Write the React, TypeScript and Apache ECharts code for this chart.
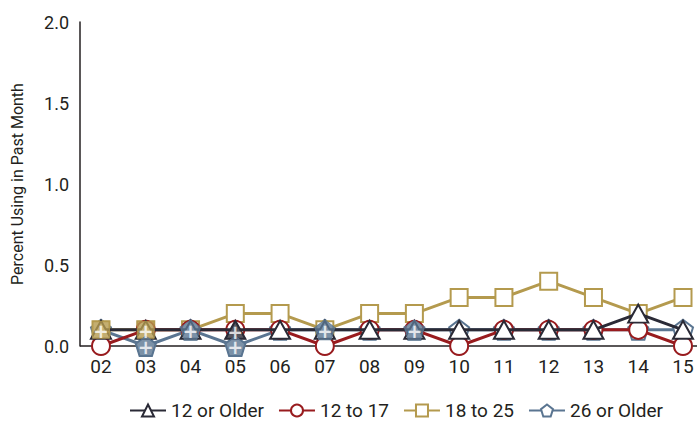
import React, { useEffect, useRef } from "react";
import * as echarts from "echarts";

const years = ["02", "03", "04", "05", "06", "07", "08", "09", "10", "11", "12", "13", "14", "15"];
const yTicks = [0, 0.5, 1.0, 1.5, 2.0];

const older12 = [0.1, 0.1, 0.1, 0.1, 0.1, 0.1, 0.1, 0.1, 0.1, 0.1, 0.1, 0.1, 0.2, 0.1];
const age1217 = [0.0, 0.1, 0.1, 0.1, 0.1, 0.0, 0.1, 0.1, 0.0, 0.1, 0.1, 0.1, 0.1, 0.0];
const age1825 = [0.1, 0.1, 0.1, 0.2, 0.2, 0.1, 0.2, 0.2, 0.3, 0.3, 0.4, 0.3, 0.2, 0.3];
const older26 = [0.1, 0.0, 0.1, 0.0, 0.1, 0.1, 0.1, 0.1, 0.1, 0.1, 0.1, 0.1, 0.1, 0.1];

// years whose estimate is flagged (drawn as filled marker with a "+")
const older12Flagged = ["05"];
const age1217Flagged: string[] = [];
const age1825Flagged = ["02", "03"];
const older26Flagged = ["03", "04", "05", "07", "09"];

const PENTAGON = "path://M50,0 L97.55,34.55 L79.39,90.45 L20.61,90.45 L2.45,34.55 Z";
const FONT = "Roboto, 'Liberation Sans', sans-serif";
const TEXT = "#231f20";

const defs = [
  { name: "12 or Older", data: older12, flagged: older12Flagged, color: "#2a2a36", symbol: "triangle", size: [20, 18] },
  { name: "12 to 17", data: age1217, flagged: age1217Flagged, color: "#981b1e", symbol: "circle", size: 18 },
  { name: "18 to 25", data: age1825, flagged: age1825Flagged, color: "#b49a4e", symbol: "rect", size: 17 },
  { name: "26 or Older", data: older26, flagged: older26Flagged, color: "#5a7591", symbol: PENTAGON, size: 20 },
];

export default function App() {
  const ref = useRef<HTMLDivElement>(null);
  useEffect(() => {
    if (!ref.current) return;
    document.body.style.margin = "0";
    const chart = echarts.init(ref.current, null, { renderer: "svg" });
    const drawOrder = [3, 2, 1, 0];
    const lineSeries: any[] = drawOrder.map((i, k) => {
      const d = defs[i];
      return {
        name: d.name,
        type: "line",
        data: d.data,
        symbol: d.symbol,
        symbolSize: d.size,
        showAllSymbol: true,
        z: 2 + k * 0.1,
        lineStyle: { color: d.color, width: 3 },
        itemStyle: { color: "#ffffff", borderColor: d.color, borderWidth: 2 },
        emphasis: { disabled: true },
      };
    });
    const flagSeries: any[] = defs.map((d) => ({
      name: d.name + " flagged",
      type: "scatter",
      data: d.flagged.map((y) => [y, d.data[years.indexOf(y)]]),
      symbol: d.symbol,
      symbolSize: d.size,
      z: 5,
      itemStyle: { color: d.color, borderColor: d.color, borderWidth: 1 },
      label: {
        show: true,
        position: "inside",
        formatter: "+",
        color: "#ffffff",
        fontSize: 19,
        fontWeight: "bold",
        fontFamily: "DejaVu Sans",
        offset: [0, d.symbol === "triangle" ? 2 : 1],
      },
      emphasis: { disabled: true },
    }));
    chart.setOption({
      animation: false,
      textStyle: { fontFamily: FONT, color: TEXT },
      grid: { left: 101, right: 14, top: 22, bottom: 80, containLabel: false },
      graphic: [
        {
          type: "line",
          z: 1,
          shape: { x1: 80, y1: 346, x2: 697, y2: 346 },
          style: { stroke: TEXT, lineWidth: 1.5 },
        },
      ],
      legend: {
        data: defs.map((d) => d.name),
        left: 124,
        bottom: 1,
        width: 570,
        itemWidth: 36,
        itemHeight: 15,
        itemGap: 14,
        textStyle: { fontFamily: FONT, fontSize: 19, color: TEXT },
      },
      xAxis: {
        type: "category",
        data: years,
        boundaryGap: false,
        axisLine: { show: false },
        axisTick: { show: false },
        axisLabel: { fontSize: 19, color: TEXT, fontFamily: FONT, margin: 11 },
        splitLine: { show: false },
      },
      yAxis: {
        type: "value",
        min: yTicks[0],
        max: yTicks[yTicks.length - 1],
        interval: 0.5,
        offset: 21,
        name: "Percent Using in Past Month",
        nameLocation: "middle",
        nameGap: 55,
        nameTextStyle: { fontSize: 16, color: TEXT, fontFamily: FONT },
        axisLine: { show: true, lineStyle: { color: TEXT, width: 1.5 } },
        axisTick: { show: false },
        splitLine: { show: false },
        axisLabel: {
          fontSize: 18,
          color: TEXT,
          fontFamily: FONT,
          margin: 11,
          formatter: (v: number) => v.toFixed(1),
        },
      },
      series: [...lineSeries, ...flagSeries],
    });
    return () => chart.dispose();
  }, []);
  return <div ref={ref} style={{ width: 697, height: 426 }} />;
}
